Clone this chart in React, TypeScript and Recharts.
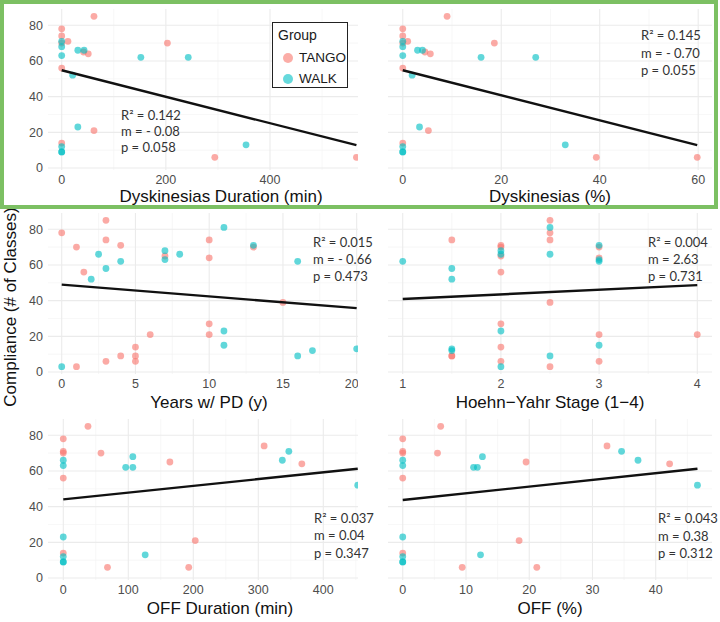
import React from 'react';
import { ScatterChart, Scatter, XAxis, YAxis, CartesianGrid, Legend } from 'recharts';

const FONT = '"Liberation Sans", Arial, Helvetica, sans-serif';
const STAT_FONT = 'Lato, "Open Sans", sans-serif';
const TANGO = '#F8766D';
const WALK = '#00BFC4';

type Pt = { x: number; y: number };

const yTicks = [0, 20, 40, 60, 80];
const yMinor = [10, 30, 50, 70];
const yDomain: [number, number] = [-1.1, 89.1];

// Dyskinesias duration (min)
const dyskDurTango: Pt[] = [
  { x: 0, y: 78 }, { x: 0, y: 74 }, { x: 0, y: 70 }, { x: 12, y: 71 }, { x: 62, y: 85 },
  { x: 203, y: 70 }, { x: 42, y: 65 }, { x: 51, y: 64 }, { x: 0, y: 56 }, { x: 62, y: 21 },
  { x: 0, y: 14 }, { x: 294, y: 6 }, { x: 566, y: 6 },
];
const dyskDurWalk: Pt[] = [
  { x: 0, y: 71 }, { x: 0, y: 68 }, { x: 0, y: 63 }, { x: 31, y: 66 }, { x: 43, y: 66 },
  { x: 21, y: 52 }, { x: 152, y: 62 }, { x: 243, y: 62 }, { x: 31, y: 23 }, { x: 354, y: 13 },
  { x: 0, y: 12 }, { x: 0, y: 9 }, { x: 0, y: 9 },
];
const dyskDurFit: Pt[] = [{ x: 0, y: 54.8 }, { x: 566, y: 12.8 }];
const dyskDurStats = ['R\u00b2 = 0.142', 'm = - 0.08', 'p = 0.058'];

// Dyskinesias (%)
const dyskPctTango: Pt[] = [
  { x: 0, y: 78 }, { x: 0, y: 74 }, { x: 0, y: 70 }, { x: 1, y: 71 }, { x: 9, y: 85 },
  { x: 18.6, y: 70 }, { x: 4.5, y: 65 }, { x: 5.6, y: 64 }, { x: 0, y: 56 }, { x: 5.2, y: 21 },
  { x: 0, y: 14 }, { x: 39.3, y: 6 }, { x: 59.8, y: 6 },
];
const dyskPctWalk: Pt[] = [
  { x: 0, y: 71 }, { x: 0, y: 68 }, { x: 0, y: 63 }, { x: 3, y: 66 }, { x: 4, y: 66 },
  { x: 1.9, y: 52 }, { x: 15.9, y: 62 }, { x: 27, y: 62 }, { x: 3.4, y: 23 }, { x: 33, y: 13 },
  { x: 0, y: 12 }, { x: 0, y: 9 }, { x: 0, y: 9 },
];
const dyskPctFit: Pt[] = [{ x: 0, y: 54.8 }, { x: 59.8, y: 12.8 }];
const dyskPctStats = ['R\u00b2 = 0.145', 'm = - 0.70', 'p = 0.055'];

// Years with PD
const yearsTango: Pt[] = [
  { x: 0, y: 78 }, { x: 1, y: 70 }, { x: 1.5, y: 56 }, { x: 3, y: 85 }, { x: 3, y: 74 },
  { x: 4, y: 71 }, { x: 7, y: 65 }, { x: 10, y: 74 }, { x: 10, y: 64 }, { x: 13, y: 70 },
  { x: 15, y: 39 }, { x: 6, y: 21 }, { x: 10, y: 27 }, { x: 10, y: 21 }, { x: 5, y: 14 },
  { x: 4, y: 9 }, { x: 5, y: 9 }, { x: 3, y: 6 }, { x: 5, y: 6 }, { x: 1, y: 3 },
];
const yearsWalk: Pt[] = [
  { x: 2.5, y: 66 }, { x: 2, y: 52 }, { x: 3, y: 58 }, { x: 4, y: 62 }, { x: 7, y: 68 },
  { x: 7, y: 63 }, { x: 8, y: 66 }, { x: 11, y: 81 }, { x: 13, y: 71 }, { x: 16, y: 62 },
  { x: 11, y: 23 }, { x: 11, y: 15 }, { x: 16, y: 9 }, { x: 17, y: 12 }, { x: 20, y: 13 },
  { x: 0, y: 3 },
];
const yearsFit: Pt[] = [{ x: 0, y: 49 }, { x: 20, y: 35.8 }];
const yearsStats = ['R\u00b2 = 0.015', 'm = - 0.66', 'p = 0.473'];

// Hoehn-Yahr stage
const hyTango: Pt[] = [
  { x: 1.5, y: 74 }, { x: 1.5, y: 9 }, { x: 1.5, y: 9 }, { x: 2, y: 71 }, { x: 2, y: 70 },
  { x: 2, y: 65 }, { x: 2, y: 56 }, { x: 2, y: 27 }, { x: 2, y: 14 }, { x: 2, y: 6 },
  { x: 2.5, y: 85 }, { x: 2.5, y: 78 }, { x: 2.5, y: 74 }, { x: 2.5, y: 39 }, { x: 2.5, y: 3 },
  { x: 3, y: 70 }, { x: 3, y: 64 }, { x: 3, y: 21 }, { x: 3, y: 6 }, { x: 4, y: 21 },
];
const hyWalk: Pt[] = [
  { x: 1, y: 62 }, { x: 1.5, y: 58 }, { x: 1.5, y: 52 }, { x: 1.5, y: 13 }, { x: 1.5, y: 12 },
  { x: 2, y: 68 }, { x: 2, y: 66 }, { x: 2, y: 23 }, { x: 2, y: 3 }, { x: 2.5, y: 81 },
  { x: 2.5, y: 66 }, { x: 2.5, y: 9 }, { x: 3, y: 71 }, { x: 3, y: 63 }, { x: 3, y: 62 },
  { x: 3, y: 15 },
];
const hyFit: Pt[] = [{ x: 1, y: 40.9 }, { x: 4, y: 48.7 }];
const hyStats = ['R\u00b2 = 0.004', 'm = 2.63', 'p = 0.731'];

// OFF duration (min)
const offDurTango: Pt[] = [
  { x: 0, y: 78 }, { x: 0, y: 71 }, { x: 0, y: 70 }, { x: 38, y: 85 }, { x: 58, y: 70 },
  { x: 164, y: 65 }, { x: 309, y: 74 }, { x: 367, y: 64 }, { x: 0, y: 56 }, { x: 203, y: 21 },
  { x: 0, y: 14 }, { x: 68, y: 6 }, { x: 193, y: 6 },
];
const offDurWalk: Pt[] = [
  { x: 0, y: 66 }, { x: 0, y: 63 }, { x: 107, y: 68 }, { x: 96, y: 62 }, { x: 107, y: 62 },
  { x: 337, y: 66 }, { x: 347, y: 71 }, { x: 453, y: 52 }, { x: 0, y: 23 }, { x: 126, y: 13 },
  { x: 0, y: 12 }, { x: 0, y: 9 }, { x: 0, y: 9 },
];
const offDurFit: Pt[] = [{ x: 0, y: 44.1 }, { x: 453, y: 61.2 }];
const offDurStats = ['R\u00b2 = 0.037', 'm = 0.04', 'p = 0.347'];

// OFF (%)
const offPctTango: Pt[] = [
  { x: 0, y: 78 }, { x: 0, y: 71 }, { x: 0, y: 70 }, { x: 6, y: 85 }, { x: 5.5, y: 70 },
  { x: 19.5, y: 65 }, { x: 32.3, y: 74 }, { x: 42.2, y: 64 }, { x: 0, y: 56 }, { x: 18.4, y: 21 },
  { x: 0, y: 14 }, { x: 9.4, y: 6 }, { x: 21.2, y: 6 },
];
const offPctWalk: Pt[] = [
  { x: 0, y: 66 }, { x: 0, y: 63 }, { x: 12.6, y: 68 }, { x: 11.2, y: 62 }, { x: 11.8, y: 62 },
  { x: 34.6, y: 71 }, { x: 37.2, y: 66 }, { x: 46.6, y: 52 }, { x: 0, y: 23 }, { x: 12.3, y: 13 },
  { x: 0, y: 12 }, { x: 0, y: 9 }, { x: 0, y: 9 },
];
const offPctFit: Pt[] = [{ x: 0, y: 43.7 }, { x: 46.6, y: 61.2 }];
const offPctStats = ['R\u00b2 = 0.043', 'm = 0.38', 'p = 0.312'];

const PLOT_H = 161;
const AXIS_H = 44;
const Y_W = 48;

const dot = (color: string) => (props: any) =>
  <circle cx={props.cx} cy={props.cy} r={3.4} fill={color} fillOpacity={0.62} />;

const renderLegend = (props: any) => {
  const items = (props.payload || []).filter((p: any) => p.type !== 'none');
  return (
    <div style={{ width: 76, height: 66, boxSizing: 'border-box', border: '1.5px solid #222', background: '#fff', fontFamily: FONT, padding: '4px 0 0 5px' }}>
      <div style={{ fontSize: 14, color: '#1a1a1a', lineHeight: '17px', marginBottom: 3 }}>Group</div>
      {items.map((p: any) => (
        <div key={p.value} style={{ display: 'flex', alignItems: 'center', height: 21 }}>
          <svg width={20} height={14}>
            <circle cx={10} cy={7} r={5} fill={p.color} fillOpacity={0.6} />
          </svg>
          <span style={{ fontSize: 13.5, color: '#1a1a1a', marginLeft: 1 }}>{p.value}</span>
        </div>
      ))}
    </div>
  );
};

interface PanelProps {
  left: number;
  top: number;
  width: number;
  showY: boolean;
  xDomain: [number, number];
  xTicks: number[];
  xMinor: number[];
  tango: Pt[];
  walk: Pt[];
  fit: Pt[];
  title: string;
  titleDx: number;
  titleOffset?: number;
  legend?: boolean;
}

const Panel: React.FC<PanelProps> = (p) => (
  <div style={{ position: 'absolute', left: p.left, top: p.top }}>
    <ScatterChart width={p.width} height={PLOT_H + AXIS_H} margin={{ top: 0, right: 0, bottom: 0, left: 0 }}>
      <CartesianGrid horizontalValues={yMinor} verticalValues={p.xMinor} stroke="#F3F3F3" strokeWidth={0.7} />
      <CartesianGrid horizontalValues={yTicks} verticalValues={p.xTicks} stroke="#EBEBEB" strokeWidth={1.1} />
      <XAxis
        type="number"
        dataKey="x"
        domain={p.xDomain}
        ticks={p.xTicks}
        allowDataOverflow
        height={AXIS_H}
        axisLine={false}
        tickLine={false}
        tickSize={0}
        tickMargin={5}
        tick={{ fill: '#4d4d4d', fontSize: 12.5, fontFamily: FONT }}
        label={{ value: p.title, position: 'insideBottom', offset: p.titleOffset ?? 10, dx: p.titleDx, fill: '#111', fontSize: 17, fontFamily: FONT }}
      />
      <YAxis
        type="number"
        dataKey="y"
        domain={yDomain}
        ticks={yTicks}
        allowDataOverflow
        hide={!p.showY}
        width={Y_W}
        axisLine={false}
        tickLine={false}
        tickSize={0}
        tickMargin={5}
        tick={{ fill: '#4d4d4d', fontSize: 12.5, fontFamily: FONT }}
      />
      <Scatter name="TANGO" data={p.tango} fill={TANGO} shape={dot(TANGO)} isAnimationActive={false} />
      <Scatter name="WALK" data={p.walk} fill={WALK} shape={dot(WALK)} isAnimationActive={false} />
      <Scatter
        name="fit"
        data={p.fit}
        legendType="none"
        line={{ stroke: '#111', strokeWidth: 2.4 }}
        shape={() => <g />}
        isAnimationActive={false}
      />
      {p.legend && (
        <Legend
          layout="horizontal"
          verticalAlign="middle"
          align="center"
          content={renderLegend}
          wrapperStyle={{ position: 'absolute', left: 272, top: 13.5, width: 76, height: 66 }}
        />
      )}
    </ScatterChart>
  </div>
);

const Stats: React.FC<{ x: number; ys: number[]; lines: string[] }> = ({ x, ys, lines }) => (
  <g>
    {lines.map((l, i) => (
      <text key={l} x={x} y={ys[i]} fontSize={13} fill="#333" fontFamily={STAT_FONT}>{l}</text>
    ))}
  </g>
);

export default function App() {
  const rowTop = [8.5, 213, 419];
  return (
    <div style={{ position: 'absolute', left: 0, top: 0, width: 720, height: 622, background: '#fff', overflow: 'hidden' }}>
      <Panel left={0} top={rowTop[0]} width={358} showY xDomain={[-26.3, 569]} xTicks={[0, 200, 400]} xMinor={[100, 300, 500]}
        tango={dyskDurTango} walk={dyskDurWalk} fit={dyskDurFit} title="Dyskinesias Duration (min)" titleDx={18} titleOffset={12.5} legend />
      <Panel left={388} top={rowTop[0]} width={324} showY={false} xDomain={[-3, 62.8]} xTicks={[0, 20, 40, 60]} xMinor={[10, 30, 50]}
        tango={dyskPctTango} walk={dyskPctWalk} fit={dyskPctFit} title="Dyskinesias (%)" titleDx={0} titleOffset={12.5} />
      <Panel left={0} top={rowTop[1]} width={358} showY xDomain={[-0.93, 20.09]} xTicks={[0, 5, 10, 15, 20]} xMinor={[2.5, 7.5, 12.5, 17.5]}
        tango={yearsTango} walk={yearsWalk} fit={yearsFit} title="Years w/ PD (y)" titleDx={6} />
      <Panel left={388} top={rowTop[1]} width={324} showY={false} xDomain={[0.85, 4.15]} xTicks={[1, 2, 3, 4]} xMinor={[1.5, 2.5, 3.5]}
        tango={hyTango} walk={hyWalk} fit={hyFit} title={'Hoehn\u2212Yahr Stage (1\u22124)'} titleDx={0} />
      <Panel left={0} top={rowTop[2]} width={358} showY xDomain={[-23.5, 453.4]} xTicks={[0, 100, 200, 300, 400]} xMinor={[50, 150, 250, 350, 450]}
        tango={offDurTango} walk={offDurWalk} fit={offDurFit} title="OFF Duration (min)" titleDx={17} />
      <Panel left={388} top={rowTop[2]} width={324} showY={false} xDomain={[-2.33, 48.9]} xTicks={[0, 10, 20, 30, 40]} xMinor={[5, 15, 25, 35, 45]}
        tango={offPctTango} walk={offPctWalk} fit={offPctFit} title="OFF (%)" titleDx={0} />

      <svg width={720} height={622} style={{ position: 'absolute', left: 0, top: 0, pointerEvents: 'none' }}>
        <text transform="translate(16, 307) rotate(-90)" textAnchor="middle" fontSize={17} fill="#111" fontFamily={FONT}>
          Compliance (# of Classes)
        </text>
        <Stats x={121} ys={[120, 136, 152]} lines={dyskDurStats} />
        <Stats x={641} ys={[40, 57.5, 75]} lines={dyskPctStats} />
        <Stats x={313} ys={[246.5, 263.5, 281]} lines={yearsStats} />
        <Stats x={648} ys={[246.5, 263.5, 281]} lines={hyStats} />
        <Stats x={314} ys={[522.5, 540, 557.5]} lines={offDurStats} />
        <Stats x={658} ys={[523, 540.5, 558]} lines={offPctStats} />
      </svg>

      <div style={{ position: 'absolute', left: 0, top: 0, width: 718, height: 209, boxSizing: 'border-box', border: '4px solid #7CC063', pointerEvents: 'none' }} />
    </div>
  );
}
